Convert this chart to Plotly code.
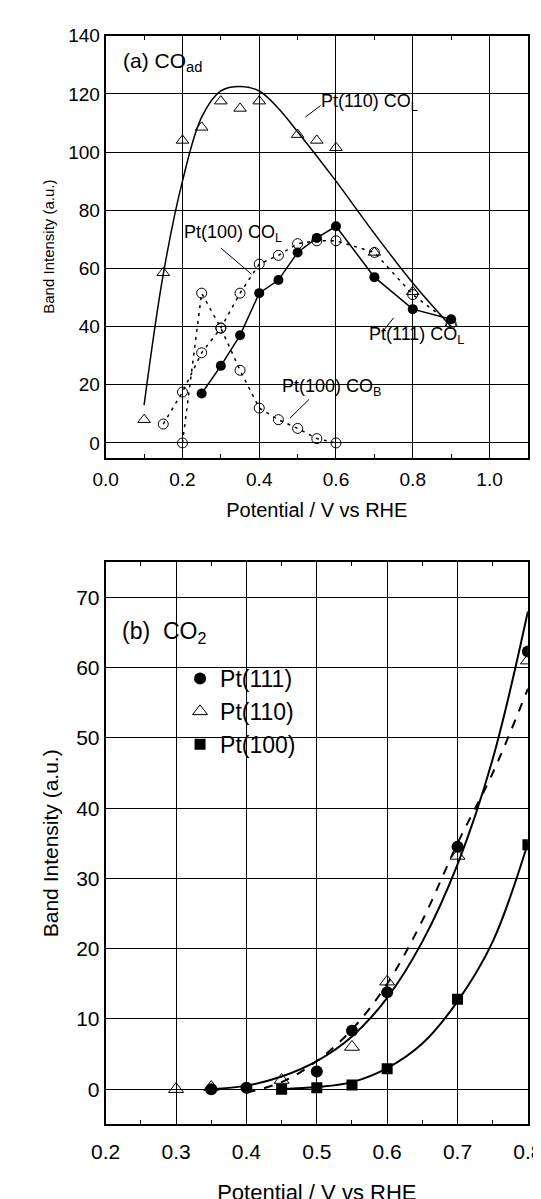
import plotly.graph_objects as go

# ---- panel (a) data ----
a110_x = [0.1,0.15,0.2,0.25,0.3,0.35,0.4,0.5,0.55,0.6,0.7,0.8,0.9]
a110_y = [8,58.5,104,108.5,117.5,115,117.5,106,104,101.5,65.5,52,41]
a110_fit_x = [0.1,0.15,0.2,0.25,0.3,0.35,0.4,0.45,0.5,0.6,0.7,0.8,0.9]
a110_fit_y = [13,58,90,112,121,122.5,121,115,107,90,72,55,40]
a111_x = [0.25,0.3,0.35,0.4,0.45,0.5,0.55,0.6,0.7,0.8,0.9]
a111_y = [17,26.5,37,51.5,56,65.5,70.5,74.5,57,46,42.5]
a100L_x = [0.15,0.2,0.25,0.3,0.35,0.4,0.45,0.5,0.55,0.6,0.7,0.8,0.9]
a100L_y = [6.5,17.5,31,39.5,51.5,61.5,64.5,68.5,69.5,69.5,65.5,51,41]
a100B_x = [0.2,0.25,0.3,0.35,0.4,0.45,0.5,0.55,0.6]
a100B_y = [0,51.5,39.5,25,12,8,5,1.5,0]

# ---- panel (b) data ----
b111_x = [0.35,0.4,0.5,0.55,0.6,0.7,0.8]
b111_y = [0,0.2,2.5,8.3,13.8,34.5,62.3]
b111_fit_x = [0.35,0.4,0.45,0.5,0.55,0.6,0.65,0.7,0.75,0.8]
b111_fit_y = [0,0.5,1.8,4,7.5,13,21,32,47,68]
b110_x = [0.3,0.35,0.45,0.55,0.6,0.7,0.8]
b110_y = [0,0.3,1.3,6,15.3,33.2,61]
b110_fit_x = [0.4,0.45,0.5,0.55,0.6,0.65,0.7,0.75,0.8]
b110_fit_y = [-0.5,1,4,8.5,15,24,35,45,57]
b100_x = [0.45,0.5,0.55,0.6,0.7,0.8]
b100_y = [0,0.2,0.6,2.9,12.8,34.8]
b100_fit_x = [0.45,0.5,0.55,0.6,0.65,0.7,0.75,0.8]
b100_fit_y = [0,0.3,1,3,6.5,12.5,21,35]

FONT = "Liberation Sans"
fig = go.Figure()
oc = dict(symbol="circle-open", size=10, color="black", line=dict(width=1))
ot = dict(symbol="triangle-up-open", size=11, color="black", line=dict(width=1))
fc = dict(symbol="circle", size=10, color="black")

# panel a
fig.add_trace(go.Scatter(x=a110_fit_x, y=a110_fit_y, mode="lines", line=dict(color="black", width=1.5, shape="spline"), showlegend=False, xaxis="x", yaxis="y"))
fig.add_trace(go.Scatter(x=a100L_x, y=a100L_y, mode="lines+markers", line=dict(color="black", width=1.5, dash="3px,5px"), marker=oc, showlegend=False, xaxis="x", yaxis="y"))
fig.add_trace(go.Scatter(x=a100B_x, y=a100B_y, mode="lines+markers", line=dict(color="black", width=1.5, dash="3px,5px"), marker=oc, showlegend=False, xaxis="x", yaxis="y"))
fig.add_trace(go.Scatter(x=a111_x, y=a111_y, mode="lines+markers", line=dict(color="black", width=1.5), marker=fc, showlegend=False, xaxis="x", yaxis="y"))
fig.add_trace(go.Scatter(x=a110_x, y=a110_y, mode="markers", marker=ot, showlegend=False, xaxis="x", yaxis="y"))

# panel b
fig.add_trace(go.Scatter(x=b111_fit_x, y=b111_fit_y, mode="lines", line=dict(color="black", width=2, shape="spline"), showlegend=False, xaxis="x2", yaxis="y2"))
fig.add_trace(go.Scatter(x=b110_fit_x, y=b110_fit_y, mode="lines", line=dict(color="black", width=2, dash="dash", shape="spline"), showlegend=False, xaxis="x2", yaxis="y2"))
fig.add_trace(go.Scatter(x=b100_fit_x, y=b100_fit_y, mode="lines", line=dict(color="black", width=2, shape="spline"), showlegend=False, xaxis="x2", yaxis="y2"))
fig.add_trace(go.Scatter(x=b111_x, y=b111_y, mode="markers", name="Pt(111)", marker=dict(symbol="circle", size=12, color="black"), xaxis="x2", yaxis="y2"))
fig.add_trace(go.Scatter(x=b110_x, y=b110_y, mode="markers", name="Pt(110)", marker=dict(symbol="triangle-up-open", size=13, color="black", line=dict(width=1)), xaxis="x2", yaxis="y2"))
fig.add_trace(go.Scatter(x=b100_x, y=b100_y, mode="markers", name="Pt(100)", marker=dict(symbol="square", size=11, color="black"), xaxis="x2", yaxis="y2"))

axc = dict(showline=True, linecolor="black", linewidth=2, mirror="ticks", ticks="inside", ticklen=8,
           tickcolor="black", showgrid=True, gridcolor="black", gridwidth=1, zeroline=False, automargin=False,
           minor=dict(ticks="inside", ticklen=4, tickcolor="black", showgrid=False))
fig.update_layout(
    width=541, height=1199, paper_bgcolor="white", plot_bgcolor="white",
    margin=dict(l=0, r=0, t=0, b=0), font=dict(family=FONT, color="black"),
    xaxis=dict(axc, domain=[0.1806, 0.961], anchor="y", range=[0, 1.1], dtick=0.2, tickformat=".1f",
               tickfont=dict(size=19), ticklabelstandoff=4,
               title=dict(text="Potential / V vs RHE", font=dict(size=20), standoff=14)),
    yaxis=dict(axc, domain=[0.6251, 0.9769], anchor="x", range=[-5, 140], tickvals=[0,20,40,60,80,100,120,140],
               tickfont=dict(size=19), title=dict(text="Band Intensity (a.u.)", font=dict(size=15), standoff=10)),
    xaxis2=dict(axc, domain=[0.1806, 0.961], anchor="y2", range=[0.2, 0.8], dtick=0.1, tickformat=".1f",
                tickfont=dict(size=21), ticklabelstandoff=8,
                title=dict(text="Potential / V vs RHE", font=dict(size=22), standoff=22)),
    yaxis2=dict(axc, domain=[0.0690, 0.5377], anchor="x2", range=[-5, 75], tickvals=[0,10,20,30,40,50,60,70],
                tickfont=dict(size=21), title=dict(text="Band Intensity (a.u.)", font=dict(size=21), standoff=12)),
    legend=dict(x=0.318, y=0.4587, xanchor="left", yanchor="top", font=dict(size=23), bgcolor="rgba(0,0,0,0)",
                tracegroupgap=0, itemsizing="trace"),
)
fig.update_xaxes(minor=dict(nticks=2))
fig.update_yaxes(minor=dict(nticks=2))

ann = [
    dict(x=0.04, y=131, xref="x", yref="y", text="(a) CO<sub>ad</sub>", size=21),
    dict(x=0.555, y=117, xref="x", yref="y", text="Pt(110) CO<sub>L</sub>", size=18),
    dict(x=0.2, y=72, xref="x", yref="y", text="Pt(100) CO<sub>L</sub>", size=18),
    dict(x=0.68, y=37, xref="x", yref="y", text="Pt(111) CO<sub>L</sub>", size=18),
    dict(x=0.455, y=19, xref="x", yref="y", text="Pt(100) CO<sub>B</sub>", size=18),
    dict(x=0.22, y=65, xref="x2", yref="y2", text="(b)  CO<sub>2</sub>", size=23),
]
for a in ann:
    fig.add_annotation(x=a["x"], y=a["y"], xref=a["xref"], yref=a["yref"], text=a["text"], showarrow=False,
                       xanchor="left", font=dict(size=a["size"], family=FONT, color="black"))
# leader lines
for (x0, y0, x1, y1) in [(0.52, 112, 0.56, 116), (0.3, 67, 0.38, 58), (0.75, 43, 0.72, 38), (0.48, 8.5, 0.53, 15)]:
    fig.add_shape(type="line", x0=x0, y0=y0, x1=x1, y1=y1, xref="x", yref="y", line=dict(color="black", width=1))

fig.write_html("out.html")
